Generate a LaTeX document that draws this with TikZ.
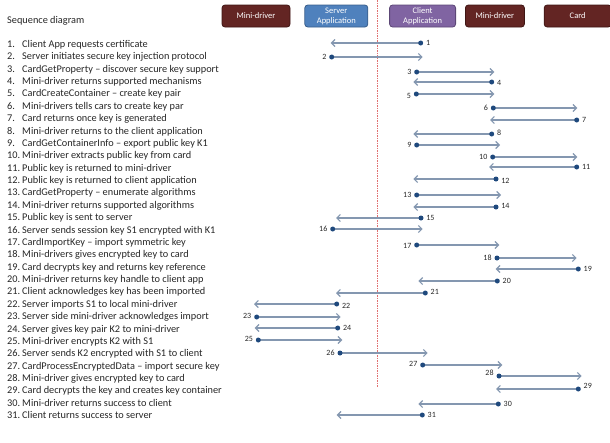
\documentclass[tikz,border=0pt]{standalone}
\usepackage{fontspec}
\setmainfont{Carlito}
\usetikzlibrary{positioning,arrows.meta}

\definecolor{drvfill}{HTML}{632523}
\definecolor{drvline}{HTML}{3F1614}
\definecolor{srvfill}{HTML}{4F81BD}
\definecolor{srvline}{HTML}{385D8A}
\definecolor{clifill}{HTML}{8064A2}
\definecolor{cliline}{HTML}{5C4776}
\definecolor{msgline}{HTML}{8497B0}
\definecolor{dotblue}{HTML}{1F497D}
\definecolor{lifered}{HTML}{E07070}

\begin{document}
\begin{tikzpicture}[x=1pt, y=-1pt,
  actor/.style={draw, rounded corners=3pt, line width=0.8pt, minimum height=22pt, inner sep=1pt, text=white, align=center, font=\fontsize{8.5}{10}\selectfont},
  itemtxt/.style={anchor=west, inner sep=0pt, text height=7pt, text depth=2pt, text=black!85, font=\fontsize{10.3}{12}\selectfont},
  msg/.style={draw=msgline, line width=1.2pt, -{Straight Barb[length=3.5pt, width=7pt]}},
  dot/.style={circle, fill=dotblue, inner sep=0pt, minimum size=5pt},
  numlbl/.style={inner sep=0pt, label distance=2.5pt, text=black!85, font=\fontsize{8}{9}\selectfont},
  lifeline/.style={draw=lifered, line width=0.6pt, dash pattern=on 1.5pt off 1pt}]

\useasboundingbox (0,0) rectangle (610,442);

% Lifeline
\coordinate (lifetop) at (377,0);
\coordinate (lifebot) at (377,387);
\draw[lifeline] (lifetop) -- (lifebot);

% Actors
\node[actor, fill=drvfill, draw=drvline, minimum width=68pt] (srv_driver) at (256,16) {Mini-driver};
\node[actor, fill=srvfill, draw=srvline, minimum width=63pt, right=14pt of srv_driver] (srv_app) {Server\\Application};
\node[actor, fill=clifill, draw=cliline, minimum width=66pt, right=21pt of srv_app] (cli_app) {Client\\Application};
\node[actor, fill=drvfill, draw=drvline, minimum width=59pt, right=9pt of cli_app] (cli_driver) {Mini-driver};
\node[actor, fill=drvfill, draw=drvline, minimum width=67pt, right=19pt of cli_driver] (card) {Card};

% Title
\node[itemtxt] (title) at (7,21) {Sequence diagram};

% Steps
\foreach \t [count=\i] in {Client App requests certificate,
  Server initiates secure key injection protocol,
  CardGetProperty – discover secure key support,
  Mini-driver returns supported mechanisms,
  CardCreateContainer – create key pair,
  Mini-drivers tells cars to create key par,
  Card returns once key is generated,
  Mini-driver returns to the client application,
  CardGetContainerInfo – export public key K1,
  Mini-driver extracts public key from card,
  Public key is returned to mini-driver,
  Public key is returned to client application,
  CardGetProperty – enumerate algorithms,
  Mini-driver returns supported algorithms,
  Public key is sent to server,
  Server sends session key S1 encrypted with K1,
  CardImportKey – import symmetric key,
  Mini-drivers gives encrypted key to card,
  Card decrypts key and returns key reference,
  Mini-driver returns key handle to client app,
  Client acknowledges key has been imported,
  Server imports S1 to local mini-driver,
  Server side mini-driver acknowledges import,
  Server gives key pair K2 to mini-driver,
  Mini-driver encrypts K2 with S1,
  Server sends K2 encrypted with S1 to client,
  CardProcessEncryptedData – import secure key,
  Mini-driver gives encrypted key to card,
  Card decrypts the key and creates key container,
  Mini-driver returns success to client,
  Client returns success to server}
{
  \node[itemtxt] (num\i) at (7,{45+(\i-1)*12.37}) {\i.};
  \node[itemtxt] (step\i) at (22,{45+(\i-1)*12.37}) {\t};
}

% Messages
\foreach \i/\xa/\xb/\y/\s/\dy in {1/420.7/330.7/43/right/0,
  2/331.7/422.7/57/left/0, 3/416.7/494.3/72/left/0,
  4/491.7/413.3/82/right/-1, 5/416.3/494.3/94/left/-1.5,
  6/493.3/577.3/108/left/0, 7/576.7/490/120/right/0,
  8/491.7/413.3/134/right/1.5, 9/416.7/500/145/left/0,
  10/492.7/577.3/157/left/0, 11/576.7/489/167/right/0,
  12/496/413.3/179/right/-1.5, 13/416.7/501/195/left/0,
  14/496/413.3/207/right/1.5, 15/421/336/218/right/0,
  16/332.7/422.7/229/left/0, 17/416.7/499.3/245/left/-1,
  18/497/576.7/258/left/0, 19/578.3/495.7/269/right/0,
  20/497.3/418.3/281/right/0, 21/425.3/336/293/right/1,
  22/336.7/254/304/right/-1.5, 23/256.7/340.7/317/left/1.5,
  24/337.7/254.7/328/right/0, 25/258.3/342.3/340/left/1,
  26/340/427.7/353/left/0, 27/422.7/502.3/365/left/1.5,
  28/499/581.7/376/left/3, 29/578.3/496/389/right/3.5,
  30/498.3/418.3/404/right/0, 31/422.3/336.7/415/right/0}
{
  \coordinate (from\i) at (\xa,\y);
  \coordinate (to\i) at (\xb,\y);
  \draw[msg] (from\i) -- (to\i);
  \node[dot, label={[numlbl, yshift=\dy pt]\s:\i}] (dot\i) at (from\i) {};
}

\end{tikzpicture}
\end{document}
